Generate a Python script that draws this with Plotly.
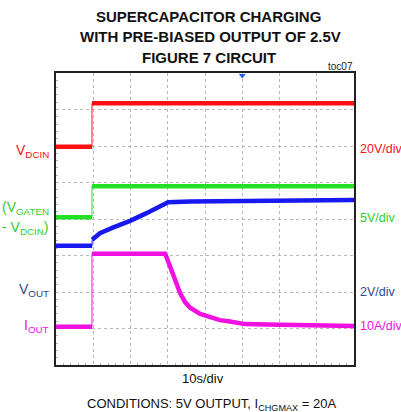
import plotly.graph_objects as go

# time axis in seconds (10 s/div, 8 divisions); trace levels in screen divisions
vdcin_t = [0, 9.66, 9.66, 80]
vdcin_y = [5.98, 5.98, 7.17, 7.17]

vgate_t = [0, 9.66, 9.66, 80]
vgate_y = [4.05, 4.05, 4.90, 4.90]

vout_t = [0, 9.7, 9.7, 11.8, 15.4, 19.9, 24.3, 28.8, 30.1, 36.0, 55.0, 80]
vout_y = [3.27, 3.27, 3.43, 3.61, 3.77, 3.95, 4.16, 4.38, 4.46, 4.48, 4.50, 4.52]

iout_t = [0, 9.66, 9.66, 29.3, 30.6, 31.9, 33.3, 34.6, 36.0, 38.7, 41.3, 44.0, 46.7, 50.7, 60.1, 80]
iout_y = [1.05, 1.05, 3.05, 3.05, 2.71, 2.33, 1.97, 1.73, 1.57, 1.40, 1.31, 1.23, 1.19, 1.12, 1.10, 1.07]

RED = "#ff1010"
GREEN = "#22e022"
BLUE = "#1818f0"
MAG = "#f010e0"
FONT = "Liberation Sans Narrow, Arial Narrow, Liberation Sans, Arial"

fig = go.Figure()
for t, y, c in [(vdcin_t, vdcin_y, RED), (vgate_t, vgate_y, GREEN),
                (vout_t, vout_y, BLUE), (iout_t, iout_y, MAG)]:
    # fast step edge drawn thin, like the scope trace
    fig.add_trace(go.Scatter(x=t[1:3], y=y[1:3], mode="lines",
                             line=dict(color=c, width=1), hoverinfo="skip"))
    fig.add_trace(go.Scatter(x=t[:2] + [None] + t[2:], y=y[:2] + [None] + y[2:],
                             mode="lines", connectgaps=False,
                             line=dict(color=c, width=4.5), hoverinfo="skip"))

# trigger marker
fig.add_trace(go.Scatter(x=[50], y=[7.93], mode="markers",
                         marker=dict(symbol="triangle-down", size=6, color="#2060ff"),
                         cliponaxis=False, hoverinfo="skip"))

axis_common = dict(showgrid=True, gridcolor="#b8b8b8", griddash="dot", gridwidth=1,
                   zeroline=False, showticklabels=False, ticks="", mirror=True,
                   showline=True, linecolor="#222222")
fig.update_xaxes(range=[0, 80], dtick=10, linewidth=2,
                 minor=dict(dtick=2, ticks="inside", ticklen=2, tickcolor="#b0b0b0", showgrid=False),
                 **axis_common)
fig.update_yaxes(range=[0, 8], dtick=1, linewidth=2,
                 minor=dict(dtick=0.2, ticks="inside", ticklen=2, tickcolor="#b0b0b0", showgrid=False),
                 **axis_common)

W, H = 401, 412
L, R, T, B = 56, 354, 73, 365

def px(x):
    return (x - L) / (R - L)
def py(y):
    return (B - y) / (B - T)

ann = []
def A(x, y, text, color, size=13, xanchor="center"):
    ann.append(dict(x=px(x), y=py(y), xref="paper", yref="paper", text=text, showarrow=False,
                    font=dict(color=color, size=size, family=FONT),
                    xanchor=xanchor, yanchor="middle"))

A(208, 16, "<b>SUPERCAPACITOR CHARGING</b>", "#111111", 15)
A(210, 37, "<b>WITH PRE-BIASED OUTPUT OF 2.5V</b>", "#111111", 15)
A(209, 58, "<b>FIGURE 7 CIRCUIT</b>", "#111111", 15)
A(355, 66, "toc07", "#222222", 10, xanchor="right")

A(51, 151, "V<sub>DCIN</sub>", RED, 14, xanchor="right")
A(51, 208, "(V<sub>GATEN</sub>", "#33cc33", 14, xanchor="right")
A(51, 228, "- V<sub>DCIN</sub>)", "#33cc33", 14, xanchor="right")
A(51, 290, "V<sub>OUT</sub>", "#2a4a8a", 14, xanchor="right")
A(51, 326, "I<sub>OUT</sub>", MAG, 14, xanchor="right")

A(358, 149, "20V/div", RED, 12.5, xanchor="left")
A(358, 218, "5V/div", "#33cc33", 12.5, xanchor="left")
A(358, 292, "2V/div", "#2a4a8a", 12.5, xanchor="left")
A(358, 326, "10A/div", MAG, 12.5, xanchor="left")

A(203, 378, "10s/div", "#111111", 13)
A(211, 404, "CONDITIONS: 5V OUTPUT, I<sub>CHGMAX</sub> = 20A", "#111111", 13)

fig.update_layout(width=W, height=H, showlegend=False,
                  margin=dict(l=L, r=W - R, t=T, b=H - B),
                  paper_bgcolor="white", plot_bgcolor="white",
                  annotations=ann)
fig.write_html("out.html", post_script="document.body.style.margin='0';",
               config={"displayModeBar": False})
